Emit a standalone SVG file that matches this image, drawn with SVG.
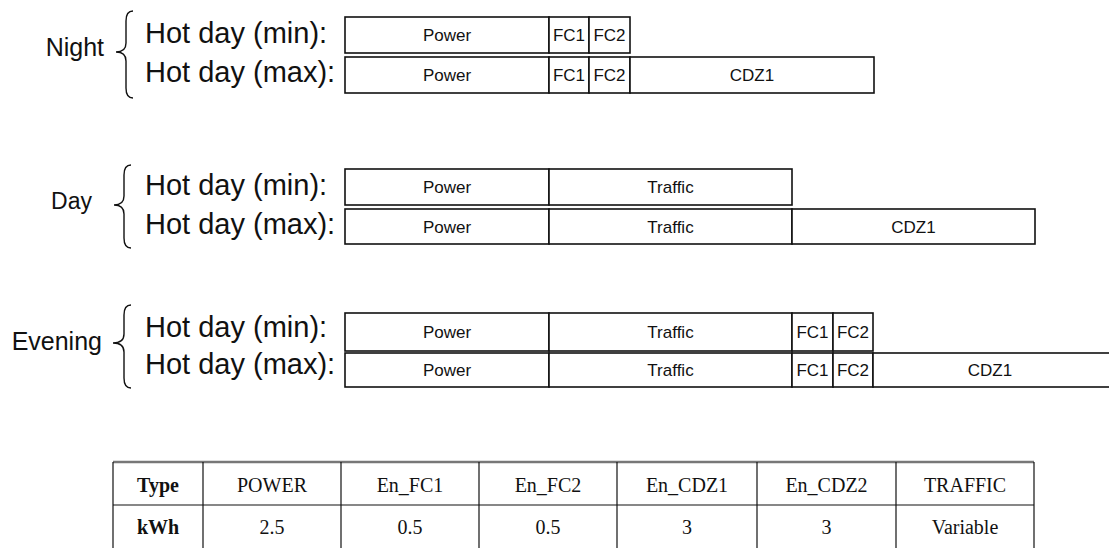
<svg xmlns="http://www.w3.org/2000/svg" width="1109" height="548" viewBox="0 0 1109 548">
<style>
.lbl{font-family:"Liberation Sans",Arial,sans-serif;font-size:25px;fill:#111;text-anchor:end}
.row{font-family:"Liberation Sans",Arial,sans-serif;font-size:29px;fill:#111}
.bx{fill:#fff;stroke:#111;stroke-width:1.6}
.bt{font-family:"Liberation Sans",Arial,sans-serif;font-size:17px;fill:#111;text-anchor:middle}
.br{fill:none;stroke:#111;stroke-width:1.4}
.tb{font-family:"Liberation Serif","Times New Roman",serif;font-size:20px;fill:#111;text-anchor:middle}
.tbb{font-weight:bold}
.tl{stroke:#111;stroke-width:1.2}
</style>
<rect width="1109" height="548" fill="#fff"/>

<g id="night">
<text class="lbl" x="104" y="56">Night</text>
<path class="br" d="M133,11 Q126,11 126,21 L126,43 Q126,52 116,52 Q126,52 126,61 L126,88 Q126,98 133,98"/>
<text class="row" x="145" y="43">Hot day (min):</text>
<text class="row" x="145" y="82">Hot day (max):</text>
<rect class="bx" x="345" y="17" width="204" height="36"/>
<rect class="bx" x="549" y="17" width="40" height="36"/>
<rect class="bx" x="589" y="17" width="41" height="36"/>
<text class="bt" x="447" y="41">Power</text>
<text class="bt" x="569" y="41">FC1</text>
<text class="bt" x="609.5" y="41">FC2</text>
<rect class="bx" x="345" y="57" width="204" height="36"/>
<rect class="bx" x="549" y="57" width="40" height="36"/>
<rect class="bx" x="589" y="57" width="41" height="36"/>
<rect class="bx" x="630" y="57" width="244" height="36"/>
<text class="bt" x="447" y="81">Power</text>
<text class="bt" x="569" y="81">FC1</text>
<text class="bt" x="609.5" y="81">FC2</text>
<text class="bt" x="752" y="81">CDZ1</text>
</g>

<g id="day">
<text class="lbl" x="92" y="209" style="font-size:23px">Day</text>
<path class="br" d="M131,165 Q124,165 124,175 L124,196 Q124,205 114,205 Q124,205 124,214 L124,238 Q124,248 131,248"/>
<text class="row" x="145" y="195">Hot day (min):</text>
<text class="row" x="145" y="234">Hot day (max):</text>
<rect class="bx" x="345" y="169" width="204" height="36"/>
<rect class="bx" x="549" y="169" width="243" height="36"/>
<text class="bt" x="447" y="193">Power</text>
<text class="bt" x="670.5" y="193">Traffic</text>
<rect class="bx" x="345" y="209" width="204" height="35"/>
<rect class="bx" x="549" y="209" width="243" height="35"/>
<rect class="bx" x="792" y="209" width="243" height="35"/>
<text class="bt" x="447" y="233">Power</text>
<text class="bt" x="670.5" y="233">Traffic</text>
<text class="bt" x="913.5" y="233">CDZ1</text>
</g>

<g id="evening">
<text class="lbl" x="102" y="350">Evening</text>
<path class="br" d="M131,305 Q124,305 124,315 L124,334 Q124,343 113,343 Q124,343 124,352 L124,378 Q124,388 131,388"/>
<text class="row" x="145" y="337">Hot day (min):</text>
<text class="row" x="145" y="374">Hot day (max):</text>
<rect class="bx" x="345" y="313" width="204" height="38"/>
<rect class="bx" x="549" y="313" width="243" height="38"/>
<rect class="bx" x="792" y="313" width="41" height="38"/>
<rect class="bx" x="833" y="313" width="40" height="38"/>
<text class="bt" x="447" y="338">Power</text>
<text class="bt" x="670.5" y="338">Traffic</text>
<text class="bt" x="812.5" y="338">FC1</text>
<text class="bt" x="853" y="338">FC2</text>
<rect class="bx" x="345" y="353" width="204" height="34"/>
<rect class="bx" x="549" y="353" width="243" height="34"/>
<rect class="bx" x="792" y="353" width="41" height="34"/>
<rect class="bx" x="833" y="353" width="40" height="34"/>
<rect class="bx" x="873" y="353" width="250" height="34"/>
<text class="bt" x="447" y="376">Power</text>
<text class="bt" x="670.5" y="376">Traffic</text>
<text class="bt" x="812.5" y="376">FC1</text>
<text class="bt" x="853" y="376">FC2</text>
<text class="bt" x="990" y="376">CDZ1</text>
</g>

<g id="table">
<line x1="113" y1="462" x2="1034" y2="462" stroke="#777" stroke-width="2.5"/>
<line class="tl" x1="113" y1="505" x2="1034" y2="505"/>
<line class="tl" x1="113" y1="462" x2="113" y2="548"/>
<line class="tl" x1="203" y1="462" x2="203" y2="548"/>
<line class="tl" x1="341" y1="462" x2="341" y2="548"/>
<line class="tl" x1="479" y1="462" x2="479" y2="548"/>
<line class="tl" x1="617" y1="462" x2="617" y2="548"/>
<line class="tl" x1="757" y1="462" x2="757" y2="548"/>
<line class="tl" x1="896" y1="462" x2="896" y2="548"/>
<line class="tl" x1="1034" y1="462" x2="1034" y2="548"/>
<text class="tb tbb" x="158" y="492">Type</text>
<text class="tb" x="272" y="492">POWER</text>
<text class="tb" x="410" y="492">En_FC1</text>
<text class="tb" x="548" y="492">En_FC2</text>
<text class="tb" x="687" y="492">En_CDZ1</text>
<text class="tb" x="826.5" y="492">En_CDZ2</text>
<text class="tb" x="965" y="492">TRAFFIC</text>
<text class="tb tbb" x="158" y="534">kWh</text>
<text class="tb" x="272" y="534">2.5</text>
<text class="tb" x="410" y="534">0.5</text>
<text class="tb" x="548" y="534">0.5</text>
<text class="tb" x="687" y="534">3</text>
<text class="tb" x="826.5" y="534">3</text>
<text class="tb" x="965" y="534">Variable</text>
</g>
</svg>
